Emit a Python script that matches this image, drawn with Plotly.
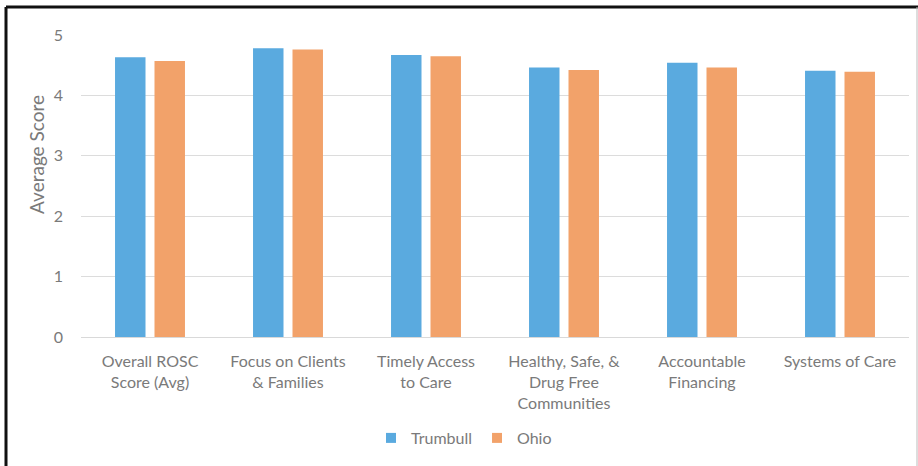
import plotly.graph_objects as go

# Category labels (line breaks as printed under each group)
categories = [
    "Overall ROSC<br>Score (Avg)",
    "Focus on Clients<br>& Families",
    "Timely Access<br>to Care",
    "Healthy, Safe, &<br>Drug Free<br>Communities",
    "Accountable<br>Financing",
    "Systems of Care",
]

# Average scores per domain
trumbull = [4.63, 4.78, 4.67, 4.46, 4.54, 4.41]
ohio = [4.57, 4.76, 4.65, 4.42, 4.46, 4.39]

y_ticks = [0, 1, 2, 3, 4, 5]

BLUE = "#5aaadf"
ORANGE = "#f2a26a"
TEXT = "#7a7a7a"
FONT = "Lato"

W, H = 918, 466
L, R, T, B = 81, 9, 35, 129
PW, PH = W - L - R, H - T - B


def px_x(px):
    return (px - L) / PW


def px_y(py):
    return (H - B - py) / PH


fig = go.Figure()
fig.add_trace(go.Bar(name="Trumbull", x=categories, y=trumbull, showlegend=False,
                     marker=dict(color=BLUE, line=dict(width=0))))
fig.add_trace(go.Bar(name="Ohio", x=categories, y=ohio, showlegend=False,
                     marker=dict(color=ORANGE, line=dict(width=0))))

# Small square legend keys
for name, color in (("Trumbull", BLUE), ("Ohio", ORANGE)):
    fig.add_trace(go.Scatter(name=name, x=[None], y=[None], mode="markers",
                             marker=dict(symbol="square", size=10, color=color),
                             showlegend=True))

# Frame drawn around the figure (top and left edges are dark, right edge faint)
frame = [
    dict(x0=px_x(6), x1=px_x(918), y0=px_y(7), y1=px_y(7), color="#111111", width=3),
    dict(x0=px_x(6), x1=px_x(6), y0=px_y(7), y1=px_y(466), color="#111111", width=3),
    dict(x0=px_x(917), x1=px_x(917), y0=px_y(7), y1=px_y(466), color="#bbbbbb", width=1),
]
shapes = [
    dict(type="line", xref="paper", yref="paper", x0=f["x0"], x1=f["x1"],
         y0=f["y0"], y1=f["y1"], line=dict(color=f["color"], width=f["width"]),
         layer="above")
    for f in frame
]

fig.update_layout(
    width=W, height=H,
    margin=dict(l=L, r=R, t=T, b=B, pad=0),
    paper_bgcolor="white", plot_bgcolor="white",
    barmode="group", bargap=0.428, bargroupgap=0.228,
    font=dict(family=FONT, color=TEXT, size=16),
    showlegend=True,
    legend=dict(orientation="h", x=px_x(464), xanchor="center",
                y=px_y(438), yanchor="middle",
                font=dict(size=16, color=TEXT), itemwidth=30,
                traceorder="normal", bgcolor="rgba(0,0,0,0)"),
    shapes=shapes,
    annotations=[dict(text="Average Score", xref="paper", yref="paper",
                      x=px_x(36), y=px_y(155), textangle=-90, showarrow=False,
                      xanchor="center", yanchor="middle",
                      font=dict(size=19, color=TEXT))],
    xaxis=dict(showgrid=False, showline=True, linecolor="#d9d9d9", linewidth=1,
               ticks="", tickfont=dict(size=16, color=TEXT), fixedrange=True,
               tickangle=0, ticklabelstandoff=10),
    yaxis=dict(range=[0, 5], tickvals=y_ticks, showgrid=True, gridcolor="#dcdcdc",
               gridwidth=1, zeroline=False, showline=False, ticks="",
               tickfont=dict(size=16, color=TEXT), ticklabelstandoff=17,
               fixedrange=True),
)

fig.write_html("out.html")
